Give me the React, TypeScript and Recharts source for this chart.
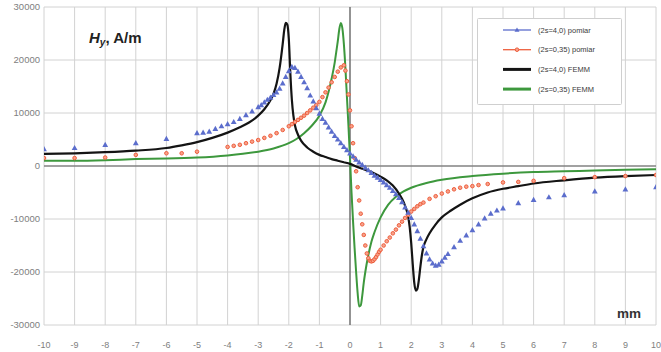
import React from 'react';
import { ComposedChart, Line, Scatter, XAxis, YAxis, CartesianGrid, ReferenceLine, Legend } from 'recharts';

const xTicks = [-10, -9, -8, -7, -6, -5, -4, -3, -2, -1, 0, 1, 2, 3, 4, 5, 6, 7, 8, 9, 10];
const yTicks = [-30000, -20000, -10000, 0, 10000, 20000, 30000];

const seriesNames = ['(2s=4,0) pomiar', '(2s=0,35) pomiar', '(2s=4,0) FEMM', '(2s=0,35) FEMM'];

const blueMeasured: [number, number][] = [
  [-10, 3200], [-9, 3400], [-8, 4000], [-7, 4300], [-6, 5100],
  [-5, 6200], [-4.8, 6300], [-4.6, 6500], [-4.4, 7000], [-4.2, 7500], [-4, 7900], [-3.8, 8300], [-3.6, 8900],
  [-3.4, 9600], [-3.2, 10300], [-3, 11100], [-2.9, 11500], [-2.8, 12000], [-2.7, 12500], [-2.6, 12900],
  [-2.5, 13400], [-2.4, 13900], [-2.3, 14600], [-2.2, 15600], [-2.1, 16800], [-2, 17900], [-1.9, 18700],
  [-1.8, 18500], [-1.7, 17800], [-1.6, 16800], [-1.5, 15800], [-1.4, 14700], [-1.3, 13300], [-1.2, 12200],
  [-1.1, 10900], [-1, 9900], [-0.9, 8900], [-0.8, 8200], [-0.7, 7300], [-0.6, 6500], [-0.5, 5700], [-0.4, 5000],
  [-0.3, 4300], [-0.2, 3600], [-0.1, 3000], [0, 2400], [0.1, 1800], [0.2, 1200], [0.3, 700], [0.4, 200],
  [0.5, -300], [0.6, -800], [0.7, -1300], [0.8, -1800], [0.9, -2200], [1, -2600], [1.1, -3100], [1.2, -3600],
  [1.3, -4100], [1.4, -4700], [1.5, -5300], [1.6, -6000], [1.7, -6800], [1.8, -7800], [1.9, -8800], [2, -9800],
  [2.1, -11000], [2.2, -12300], [2.3, -13700], [2.4, -15100], [2.5, -16500], [2.6, -17600], [2.7, -18400],
  [2.8, -18800], [2.9, -18600], [3, -18000], [3.1, -17300], [3.2, -16600], [3.4, -15300], [3.6, -14100],
  [3.8, -13100], [4, -12100], [4.2, -11000], [4.4, -9900], [4.6, -9000], [4.8, -8400], [5, -8000],
  [5.5, -7000], [6, -6400], [6.5, -5900], [7, -5500], [8, -4800], [9, -4400], [10, -4000],
];

const redMeasured: [number, number][] = [
  [-10, 1500], [-9, 1500], [-8, 1600], [-7, 2100], [-6, 2400], [-5.5, 2400], [-5, 2700],
  [-4, 3600], [-3.8, 3800], [-3.6, 4000], [-3.4, 4300], [-3.2, 4600], [-3, 4900], [-2.8, 5300], [-2.6, 5700],
  [-2.4, 6200], [-2.2, 6800], [-2, 7500], [-1.9, 7900], [-1.8, 8300], [-1.7, 8700], [-1.6, 9100], [-1.5, 9500],
  [-1.4, 10000], [-1.3, 10500], [-1.2, 11000], [-1.1, 11500], [-1, 12100],
  [-0.9, 13000], [-0.8, 13900], [-0.7, 14800], [-0.6, 15800], [-0.5, 16800], [-0.4, 17800], [-0.3, 18600],
  [-0.2, 19000], [-0.15, 18000], [-0.1, 16000], [-0.05, 13500], [0, 10500], [0.05, 7500], [0.1, 4300],
  [0.15, 1500], [0.2, -1000], [0.25, -4000], [0.3, -6500], [0.35, -9000], [0.4, -11000], [0.45, -13000],
  [0.5, -15000], [0.55, -16500], [0.6, -17400], [0.65, -17900], [0.7, -18000], [0.75, -17900], [0.8, -17600],
  [0.85, -17200], [0.9, -16700], [0.95, -16200],
  [1, -15800], [1.1, -15000], [1.2, -14200], [1.3, -13500], [1.4, -12700], [1.5, -12000], [1.6, -11200],
  [1.7, -10500], [1.8, -9800], [1.9, -9200], [2, -8600], [2.1, -8100], [2.2, -7600], [2.3, -7200], [2.4, -6900],
  [2.6, -6200], [2.8, -5700],
  [3, -5200], [3.2, -4800], [3.4, -4400], [3.6, -4100], [3.8, -3900], [4, -3800], [4.2, -3600], [4.5, -3400],
  [5, -3100], [5.5, -3000], [6, -2800], [7, -2300], [8, -2100], [9, -1900], [10, -1700],
];

const blackFemm: [number, number][] = [
  [-10, 2300], [-9, 2400], [-8, 2600], [-7, 2900], [-6, 3400], [-5.5, 3900], [-5, 4500], [-4.5, 5300],
  [-4, 6300], [-3.6, 7300], [-3.3, 8200], [-3, 9500], [-2.8, 10700], [-2.6, 12400], [-2.5, 13600],
  [-2.4, 15500], [-2.3, 18500], [-2.2, 23000], [-2.15, 25600], [-2.1, 27000], [-2.05, 26700], [-2, 24000],
  [-1.95, 17500], [-1.9, 12500], [-1.85, 9500], [-1.8, 7700], [-1.7, 5900], [-1.6, 4800], [-1.4, 3500],
  [-1.2, 2700], [-1, 2100], [-0.8, 1700], [-0.6, 1300], [-0.4, 1000], [-0.2, 700], [0, 400], [0.2, -100],
  [0.4, -500], [0.6, -900], [0.8, -1400], [1, -2000], [1.2, -2700], [1.4, -3700], [1.6, -5200], [1.7, -6200],
  [1.8, -7500], [1.9, -9500], [1.95, -11500], [2, -14500], [2.05, -18500], [2.1, -22000], [2.15, -23500],
  [2.2, -23200], [2.25, -21500], [2.3, -19000], [2.35, -16800], [2.4, -15300], [2.5, -13800], [2.6, -12700],
  [2.8, -11000], [3, -9700], [3.3, -8400], [3.6, -7300], [4, -6100], [4.5, -5000], [5, -4300], [5.5, -3800],
  [6, -3300], [7, -2700], [8, -2200], [9, -1900], [10, -1700],
];

const greenFemm: [number, number][] = [
  [-10, 1000], [-9, 1000], [-8, 1100], [-7, 1300], [-6, 1400], [-5, 1600], [-4, 2000], [-3.5, 2300],
  [-3, 2700], [-2.5, 3300], [-2, 4300], [-1.75, 5100], [-1.5, 6200], [-1.25, 7600], [-1, 9500], [-0.8, 12000],
  [-0.7, 14000], [-0.6, 16500], [-0.5, 19500], [-0.45, 21500], [-0.4, 23500], [-0.35, 25800], [-0.3, 27000],
  [-0.25, 26000], [-0.2, 23000], [-0.15, 18500], [-0.1, 13000], [-0.05, 7500], [0, 1500], [0.05, -5000],
  [0.1, -10500], [0.15, -15500], [0.2, -20000], [0.25, -24000], [0.3, -26500], [0.35, -26300], [0.4, -24500],
  [0.45, -22000], [0.5, -20000], [0.6, -16800], [0.7, -14300], [0.8, -12500], [1, -9700], [1.25, -7300],
  [1.5, -5800], [1.75, -4800], [2, -4100], [2.5, -3200], [3, -2600], [4, -1900], [5, -1450], [6, -1150],
  [7, -1000], [8, -850], [9, -700], [10, -600],
];

const toPts = (arr: [number, number][]) => arr.map(([x, y]) => ({ x, y }));

const BLUE = '#5b6dcc';
const RED = '#ee5f3e';
const BLACK = '#141414';
const GREEN = '#3d983d';

const Triangle = (props: any) => {
  const { cx, cy } = props;
  if (cx == null || cy == null) return null;
  return <path d={`M${cx},${cy - 3.1}L${cx + 2.9},${cy + 2.1}L${cx - 2.9},${cy + 2.1}Z`} fill={BLUE} />;
};

const RedDot = (props: any) => {
  const { cx, cy } = props;
  if (cx == null || cy == null) return null;
  return <circle cx={cx} cy={cy} r={1.8} fill="#f8a18a" stroke={RED} strokeWidth={1} />;
};

const legendColors = [BLUE, RED, BLACK, GREEN];

const renderLegend = () => (
  <svg width={145} height={87} style={{ display: 'block' }}>
    <rect x={0.5} y={0.5} width={144} height={86} fill="#fff" stroke="#cfcfcf" strokeWidth={1} rx={1} />
    {seriesNames.map((name, i) => {
      const y = 12 + i * 19.7;
      const thick = i >= 2;
      return (
        <g key={name}>
          <line x1={26} x2={54} y1={y} y2={y} stroke={legendColors[i]} strokeWidth={thick ? 3 : 1.3} />
          {i === 0 && <path d={`M40,${y - 2.5}L42.5,${y + 1.8}L37.5,${y + 1.8}Z`} fill={BLUE} />}
          {i === 1 && <circle cx={40} cy={y} r={1.8} fill="#f8a18a" stroke={RED} strokeWidth={1} />}
          <text x={61} y={y + 2.6} fontSize={7.5} fill="#3a3a3a" fontFamily="'Liberation Sans', Arial, sans-serif">{name}</text>
        </g>
      );
    })}
  </svg>
);

export default function App() {
  return (
    <div style={{ position: 'absolute', left: 0, top: 0, width: 661, height: 352, background: '#fff' }}>
      <ComposedChart width={661} height={352} margin={{ top: 7, right: 5, left: 0, bottom: 0 }}>
        <CartesianGrid stroke="#d2d2d2" strokeWidth={1} />
        <XAxis
          type="number"
          dataKey="x"
          domain={[-10, 10]}
          ticks={xTicks}
          allowDataOverflow
          axisLine={false}
          tickLine={false}
          tickSize={0}
          tickMargin={17}
          height={27}
          interval={0}
          tick={{ fontSize: 9, fill: '#808080', fontFamily: "'Liberation Sans', Arial, sans-serif" }}
        />
        <YAxis
          type="number"
          dataKey="y"
          domain={[-30000, 30000]}
          ticks={yTicks}
          allowDataOverflow
          axisLine={false}
          tickLine={false}
          tickSize={0}
          tickMargin={4}
          width={44}
          interval={0}
          tick={{ fontSize: 9.5, fill: '#808080', fontFamily: "'Liberation Sans', Arial, sans-serif" }}
        />
        <ReferenceLine y={0} stroke="#5a5a5a" strokeWidth={1.2} />
        <ReferenceLine x={0} stroke="#5a5a5a" strokeWidth={1.2} />
        <Line data={toPts(greenFemm)} dataKey="y" type="monotone" stroke={GREEN} strokeWidth={2} dot={false} isAnimationActive={false} name={seriesNames[3]} />
        <Line data={toPts(blackFemm)} dataKey="y" type="monotone" stroke={BLACK} strokeWidth={2.2} dot={false} isAnimationActive={false} name={seriesNames[2]} />
        <Scatter data={toPts(redMeasured)} dataKey="y" shape={RedDot} isAnimationActive={false} name={seriesNames[1]} />
        <Scatter data={toPts(blueMeasured)} dataKey="y" shape={Triangle} isAnimationActive={false} name={seriesNames[0]} />
        <Legend
          layout="vertical"
          align="center"
          verticalAlign="middle"
          content={renderLegend}
          wrapperStyle={{ left: 477, top: 18, width: 145, height: 87 }}
        />
      </ComposedChart>
      <svg width={661} height={352} style={{ position: 'absolute', left: 0, top: 0, pointerEvents: 'none' }}>
        <text x={89} y={43} fontFamily="'Liberation Sans', Arial, sans-serif" fontWeight="bold" fontSize={15} fill="#222">
          <tspan fontStyle="italic">H</tspan>
          <tspan fontStyle="italic" fontSize={10} dy={3}>y</tspan>
          <tspan dy={-3}>, A/m</tspan>
        </text>
        <text x={617} y={318} fontFamily="'Liberation Sans', Arial, sans-serif" fontWeight="bold" fontSize={13.5} fill="#333">mm</text>
      </svg>
    </div>
  );
}
